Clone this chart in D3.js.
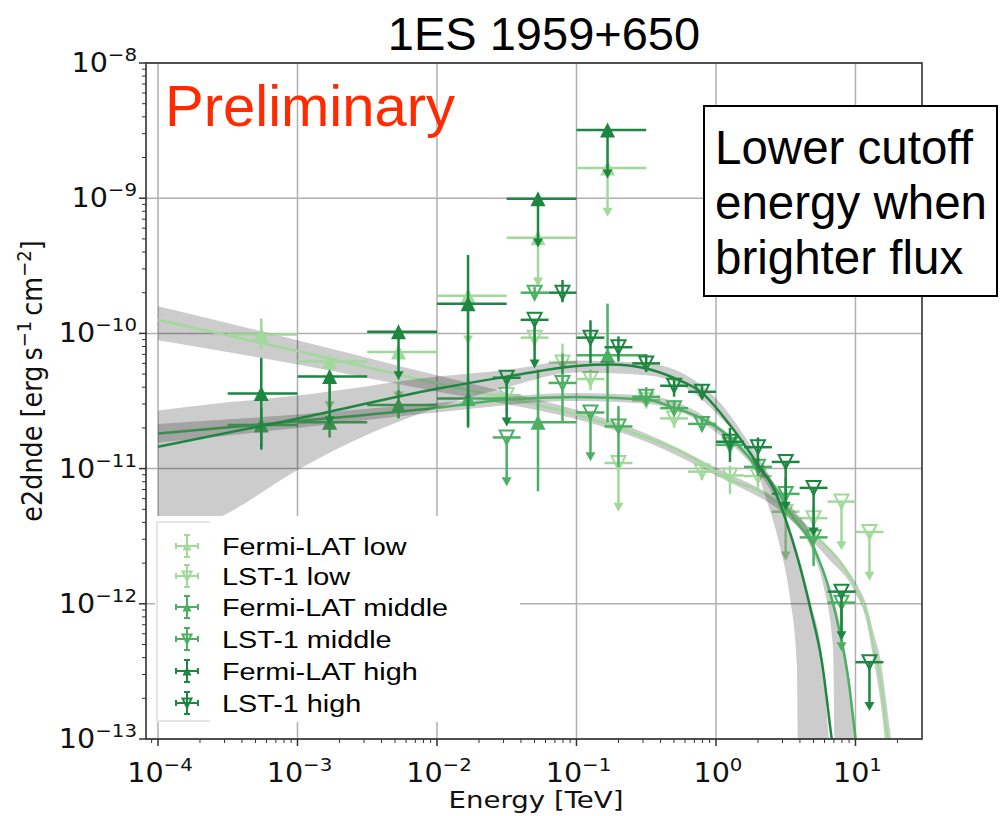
<!DOCTYPE html>
<html><head><meta charset="utf-8">
<script src="https://cdn.jsdelivr.net/npm/d3@7"></script>
<style>body{margin:0;background:#fff}</style>
</head><body><svg id="c" width="1000" height="816"></svg>
<script>
// ---------- tick labels ----------
const xTickVals = [1e-4, 1e-3, 1e-2, 1e-1, 1, 10];
const xTickExp = ["\u22124", "\u22123", "\u22122", "\u22121", "0", "1"];
const yTickVals = [1e-13, 1e-12, 1e-11, 1e-10, 1e-9, 1e-8];
const yTickExp = ["\u221213", "\u221212", "\u221211", "\u221210", "\u22129", "\u22128"];

// ---------- Fermi-LAT flux points ----------
const fermiE   = [5.5e-4, 1.7e-3, 5.3e-3, 1.67e-2, 5.3e-2, 0.167];
const fermiElo = [3.16e-4, 1e-3, 3.16e-3, 1e-2, 3.16e-2, 0.1];
const fermiEhi = [1e-3, 3.16e-3, 1e-2, 3.16e-2, 0.1, 0.316];

const fermiLow      = [9.8e-11, 6.2e-11, 7.3e-11, 1.9e-10, 5.1e-10, 1.67e-9];
const fermiLowErrLo = [7.6e-11, null, null, null, null, null];
const fermiLowErrHi = [1.29e-10, null, null, null, null, null];
const fermiLowUL    = [0, 1, 1, 1, 1, 1];

const fermiMid      = [2.1e-11, 2.2e-11, 2.95e-11, 3.3e-11, 2.2e-11, 6.9e-11];
const fermiMidErrLo = [1.45e-11, 1.7e-11, 2.35e-11, 2.0e-11, 6.8e-12, 2.2e-11];
const fermiMidErrHi = [2.8e-11, 2.7e-11, 3.8e-11, 4.6e-11, 5.4e-11, 1.66e-10];
const fermiMidUL    = [0, 0, 0, 0, 0, 0];

const fermiHigh      = [3.6e-11, 4.8e-11, 1.03e-10, 1.66e-10, 9.9e-10, 3.2e-9];
const fermiHighErrLo = [1.38e-11, null, null, 2.05e-11, null, null];
const fermiHighErrHi = [6.6e-11, null, null, 3.8e-10, null, null];
const fermiHighUL    = [0, 1, 1, 0, 1, 1];

// ---------- LST-1 flux points ----------
const lstE = [0.0316, 0.0501, 0.0794, 0.126, 0.2, 0.316, 0.501, 0.794, 1.26, 2.0, 3.16, 5.01, 7.94, 12.6];

const lstLow      = [3.5e-11, 9.3e-11, 6.1e-11, 4.6e-11, 1.1e-11, 3.2e-11, 2.35e-11, 9.5e-12, 8.9e-12, 8.8e-12, 4.8e-12, 4.3e-12, 5.7e-12, 3.4e-12];
const lstLowErrLo = [2.6e-11, 7.5e-11, 4.2e-11, 3.8e-11, null, 2.8e-11, 2.0e-11, 8.2e-12, 6.5e-12, 7.0e-12, null, 3.3e-12, null, null];
const lstLowErrHi = [4.4e-11, 1.1e-10, 8.4e-11, 5.4e-11, null, 3.6e-11, 2.7e-11, 1.1e-11, 1.05e-11, 1.05e-11, null, 5.3e-12, null, null];
const lstLowUL    = [0, 0, 0, 0, 1, 0, 0, 0, 0, 0, 1, 0, 1, 1];

const lstMid      = [1.7e-11, 2.0e-10, 4.3e-11, 2.6e-11, 2.05e-11, 3.4e-11, 2.8e-11, 2.14e-11, 1.5e-11, 1.03e-11, 6.5e-12, 3.1e-12, 1.02e-12, null];
const lstMidErrLo = [null, 1.8e-10, 2.2e-11, null, 1.03e-11, 2.9e-11, 2.5e-11, 1.9e-11, 1.3e-11, 8.8e-12, 4.5e-12, 1.9e-12, null, null];
const lstMidErrHi = [null, 2.2e-10, 7.1e-11, null, 2.9e-11, 4.0e-11, 3.2e-11, 2.4e-11, 1.75e-11, 1.2e-11, 8.5e-12, 4.0e-12, null, null];
const lstMidUL    = [1, 0, 0, 1, 0, 0, 0, 0, 0, 0, 0, 0, 1, 0];

const lstHigh      = [4.7e-11, 1.26e-10, 2.0e-10, 9.3e-11, 7.9e-11, 6.0e-11, 4.1e-11, 3.7e-11, 1.58e-11, 1.44e-11, 1.12e-11, 7.2e-12, 1.23e-12, 3.7e-13];
const lstHighErrLo = [null, null, 1.7e-10, 6.0e-11, 6.2e-11, 5.2e-11, 3.4e-11, 3.3e-11, 1.12e-11, 1.0e-11, null, null, null, null];
const lstHighErrHi = [null, null, 2.48e-10, 1.25e-10, 9.5e-11, 7.0e-11, 4.7e-11, 4.2e-11, 2.0e-11, 1.7e-11, null, null, null, null];
const lstHighUL    = [1, 1, 0, 0, 0, 0, 0, 0, 0, 0, 1, 1, 1, 1];

// ---------- fitted models ----------
const modelLowE = [1e-4, 1e-3, 1e-2, 0.0316, 0.1, 0.2, 0.316, 0.5, 0.794, 1.26, 2.0, 2.75, 4.07, 5.9, 7.9, 10, 12, 13.5, 15.1, 17, 18.2];
const modelLowF = [1.26e-10, 7.41e-11, 4.27e-11, 3.31e-11, 2.51e-11, 2.0e-11, 1.70e-11, 1.41e-11, 1.10e-11, 8.3e-12, 6.9e-12, 5.6e-12, 4.0e-12, 2.8e-12, 2.0e-12, 1.32e-12, 8.5e-13, 4.8e-13, 2.75e-13, 1.02e-13, 6e-14];
const bandLowE  = [1e-4, 1e-3, 1e-2, 0.0316, 0.1, 0.316, 1, 3.16, 6.3, 10, 12, 13.5, 15.1, 17, 19];
const bandLowHi = [1.585e-10, 8.91e-11, 4.90e-11, 3.67e-11, 2.72e-11, 1.82e-11, 1.02e-11, 5.31e-12, 2.63e-12, 1.45e-12, 9.8e-13, 6.1e-13, 3.9e-13, 1.6e-13, 6.5e-14];
const bandLowLo = [8.91e-11, 5.89e-11, 3.72e-11, 2.99e-11, 2.32e-11, 1.58e-11, 8.9e-12, 4.52e-12, 2.19e-12, 1.2e-12, 7.4e-13, 3.8e-13, 1.9e-13, 6.2e-14, 2.0e-14];

const modelMidE = [1e-4, 1e-3, 1e-2, 0.0316, 0.1, 0.316, 0.5, 0.794, 1.26, 2.0, 2.75, 3.39, 5.0, 6.6, 7.76, 8.9, 10, 10.7];
const modelMidF = [1.82e-11, 2.24e-11, 2.82e-11, 3.24e-11, 3.39e-11, 3.24e-11, 2.82e-11, 2.34e-11, 1.70e-11, 1.02e-11, 6.9e-12, 4.7e-12, 2.63e-12, 1.20e-12, 6.0e-13, 2.75e-13, 1.02e-13, 6e-14];
const bandMidE  = [1e-4, 1e-3, 1e-2, 0.1, 0.316, 1, 2.0, 3.16, 5.0, 5.9, 6.9, 7.4, 8.9, 10, 11.2];
const bandMidHi = [2.14e-11, 2.51e-11, 3.05e-11, 3.63e-11, 3.47e-11, 2.14e-11, 1.11e-11, 5.89e-12, 2.88e-12, 1.70e-12, 1.10e-12, 8.5e-13, 3.16e-13, 1.17e-13, 3.5e-14];
const bandMidLo = [1.55e-11, 2.0e-11, 2.60e-11, 3.16e-11, 3.02e-11, 1.86e-11, 9.4e-12, 4.68e-12, 2.34e-12, 1.35e-12, 4.8e-13, 3e-15, 3e-15, 3e-15, 3e-15];

const modelHighE = [1e-4, 1e-3, 1e-2, 0.0316, 0.1, 0.178, 0.316, 0.5, 0.794, 1.26, 2.0, 2.63, 3.16, 3.89, 4.79, 5.75, 6.76, 7.24];
const modelHighF = [1.45e-11, 2.34e-11, 3.89e-11, 4.79e-11, 5.75e-11, 5.89e-11, 5.5e-11, 4.68e-11, 3.63e-11, 2.1e-11, 1.07e-11, 6.9e-12, 4.2e-12, 2.1e-12, 8.9e-13, 3.7e-13, 1.0e-13, 6e-14];
const bandHighE  = [1e-4, 3.16e-4, 1e-3, 3.16e-3, 1e-2, 3.16e-2, 0.1, 0.316, 1, 2.0, 2.19, 2.88, 3.39, 3.8, 4.0, 4.8, 5.75, 6.46, 7.24];
const bandHighHi = [2.69e-11, 3.09e-11, 3.47e-11, 4.07e-11, 4.79e-11, 5.37e-11, 6.31e-11, 6.03e-11, 3.31e-11, 1.23e-11, 1.07e-11, 5.89e-12, 3.63e-12, 2.51e-12, 2.09e-12, 1.0e-12, 4.17e-13, 1.0e-13, 3.2e-14];
const bandHighLo = [2.82e-12, 4.68e-12, 9.77e-12, 1.78e-11, 2.82e-11, 3.98e-11, 5.13e-11, 4.90e-11, 2.57e-11, 9.3e-12, 6.9e-12, 2.63e-12, 1.12e-12, 3.6e-13, 1e-15, 1e-15, 1e-15, 1e-15, 1e-15];

const legendLabels = ["Fermi-LAT low", "LST-1 low", "Fermi-LAT middle", "LST-1 middle", "Fermi-LAT high", "LST-1 high"];
const boxLines = ["Lower cutoff", "energy when", "brighter flux"];

// ---------- drawing ----------
const colLow = "#a1d99b", colMid = "#4bb062", colHigh = "#1d8641";
const svg = d3.select("#c");
const X0 = 146, X1 = 922, Y0 = 63, Y1 = 739;
const x = d3.scaleLog().domain([Math.pow(10, -4.086), Math.pow(10, 1.477)]).range([X0, X1]);
const y = d3.scaleLog().domain([1e-13, 1e-8]).range([Y1, Y0]);

svg.append("rect").attr("width", 1000).attr("height", 816).attr("fill", "#fff");
svg.append("defs").append("clipPath").attr("id", "clip")
  .append("rect").attr("x", X0).attr("y", Y0).attr("width", X1 - X0).attr("height", Y1 - Y0);

// grid
const grid = svg.append("g");
xTickVals.forEach(v => grid.append("line").attr("x1", x(v)).attr("x2", x(v)).attr("y1", Y0).attr("y2", Y1)
  .attr("stroke", "#b0b0b0").attr("stroke-width", 1.5));
yTickVals.forEach(v => grid.append("line").attr("y1", y(v)).attr("y2", y(v)).attr("x1", X0).attr("x2", X1)
  .attr("stroke", "#b0b0b0").attr("stroke-width", 1.5));

const plot = svg.append("g").attr("clip-path", "url(#clip)");

function drawModel(E, F, bE, bLo, bHi, col) {
  const band = bE.map((e, i) => [e, bLo[i], bHi[i]]);
  plot.append("path").datum(band)
    .attr("d", d3.area().x(d => x(d[0])).y0(d => y(d[1])).y1(d => y(d[2])).curve(d3.curveMonotoneX))
    .attr("fill", "#000").attr("fill-opacity", 0.2);
  const pts = E.map((e, i) => [e, F[i]]);
  plot.append("path").datum(pts)
    .attr("d", d3.line().x(d => x(d[0])).y(d => y(d[1])).curve(d3.curveMonotoneX))
    .attr("fill", "none").attr("stroke", col).attr("stroke-width", 2.5);
}

function arrowHead(g, cx, cy, col) {
  g.append("path").attr("d", `M${cx - 5},${cy - 1}L${cx + 5},${cy - 1}L${cx},${cy + 8}Z`).attr("fill", col);
}
function triUp(g, cx, cy, s, col, filled) {
  g.append("path").attr("d", `M${cx},${cy - s / 2}L${cx + s / 2},${cy + s / 2}L${cx - s / 2},${cy + s / 2}Z`)
    .attr("fill", filled ? col : "none").attr("stroke", filled ? "none" : col).attr("stroke-width", 2);
}
function triDown(g, cx, cy, s, col) {
  g.append("path").attr("d", `M${cx - s / 2},${cy - s / 2}L${cx + s / 2},${cy - s / 2}L${cx},${cy + s / 2}Z`)
    .attr("fill", "none").attr("stroke", col).attr("stroke-width", 2);
}

function drawPoints(E, Elo, Ehi, V, lo, hi, ul, col, kind) {
  const g = plot.append("g");
  E.forEach((e, i) => {
    const v = V[i];
    if (v == null) return;
    const cx = x(e), cy = y(v);
    g.append("line").attr("x1", x(Elo[i])).attr("x2", x(Ehi[i])).attr("y1", cy).attr("y2", cy)
      .attr("stroke", col).attr("stroke-width", 2.5);
    if (ul[i]) {
      const yb = y(v * 0.5);
      g.append("line").attr("x1", cx).attr("x2", cx).attr("y1", cy).attr("y2", yb)
        .attr("stroke", col).attr("stroke-width", 2.5);
      arrowHead(g, cx, yb, col);
    } else if (lo[i] != null) {
      g.append("line").attr("x1", cx).attr("x2", cx).attr("y1", y(hi[i])).attr("y2", y(lo[i]))
        .attr("stroke", col).attr("stroke-width", 2.5);
    }
    if (kind === "fermi") triUp(g, cx, cy, 15, col, true);
    else triDown(g, cx, cy, 14, col);
  });
}

const lstLoE = lstE.map(e => e / 1.2589), lstHiE = lstE.map(e => e * 1.2589);

drawModel(modelLowE, modelLowF, bandLowE, bandLowLo, bandLowHi, colLow);
drawPoints(fermiE, fermiElo, fermiEhi, fermiLow, fermiLowErrLo, fermiLowErrHi, fermiLowUL, colLow, "fermi");
drawPoints(lstE, lstLoE, lstHiE, lstLow, lstLowErrLo, lstLowErrHi, lstLowUL, colLow, "lst");
drawModel(modelMidE, modelMidF, bandMidE, bandMidLo, bandMidHi, colMid);
drawPoints(fermiE, fermiElo, fermiEhi, fermiMid, fermiMidErrLo, fermiMidErrHi, fermiMidUL, colMid, "fermi");
drawPoints(lstE, lstLoE, lstHiE, lstMid, lstMidErrLo, lstMidErrHi, lstMidUL, colMid, "lst");
drawModel(modelHighE, modelHighF, bandHighE, bandHighLo, bandHighHi, colHigh);
drawPoints(fermiE, fermiElo, fermiEhi, fermiHigh, fermiHighErrLo, fermiHighErrHi, fermiHighUL, colHigh, "fermi");
drawPoints(lstE, lstLoE, lstHiE, lstHigh, lstHighErrLo, lstHighErrHi, lstHighUL, colHigh, "lst");

// spines
svg.append("rect").attr("x", X0).attr("y", Y0).attr("width", X1 - X0).attr("height", Y1 - Y0)
  .attr("fill", "none").attr("stroke", "#333").attr("stroke-width", 1.6);

// ticks
const tk = svg.append("g").attr("stroke", "#333");
xTickVals.forEach(v => tk.append("line").attr("x1", x(v)).attr("x2", x(v)).attr("y1", Y1).attr("y2", Y1 + 7).attr("stroke-width", 1.5));
yTickVals.forEach(v => tk.append("line").attr("y1", y(v)).attr("y2", y(v)).attr("x1", X0).attr("x2", X0 - 7).attr("stroke-width", 1.5));
for (let d = -5; d <= 1; d++) for (let m = 2; m <= 9; m++) {
  const v = m * Math.pow(10, d);
  if (v > x.domain()[0] && v < x.domain()[1])
    tk.append("line").attr("x1", x(v)).attr("x2", x(v)).attr("y1", Y1).attr("y2", Y1 + 4).attr("stroke-width", 1);
}
for (let d = -13; d <= -9; d++) for (let m = 2; m <= 9; m++) {
  const v = m * Math.pow(10, d);
  tk.append("line").attr("y1", y(v)).attr("y2", y(v)).attr("x1", X0).attr("x2", X0 - 4).attr("stroke-width", 1);
}

// tick labels
const tfont = "DejaVu Sans";
function powLabel(tx, ty, exp, anchor) {
  const g = svg.append("g").attr("transform", `translate(${tx},${ty}) scale(1.1,1)`);
  const t = g.append("text").attr("font-family", tfont).attr("font-size", 26).attr("fill", "#111")
    .attr("text-anchor", anchor);
  t.append("tspan").text("10");
  t.append("tspan").attr("font-size", 18).attr("dy", -11).text(exp);
}
xTickVals.forEach((v, i) => powLabel(x(v) + 2, 782, xTickExp[i], "middle"));
yTickVals.forEach((v, i) => powLabel(137, y(v) + 9, yTickExp[i], "end"));

// axis labels
svg.append("g").attr("transform", "translate(536,808) scale(1.2,1)")
  .append("text").attr("font-family", tfont).attr("font-size", 23).attr("text-anchor", "middle").attr("fill", "#111")
  .text("Energy [TeV]");
const yl = svg.append("g").attr("transform", "translate(42,381) scale(1.1,1) rotate(-90)")
  .append("text").attr("font-family", tfont).attr("font-size", 25.5).attr("text-anchor", "middle").attr("fill", "#111");
yl.append("tspan").text("e2dnde [erg\u2009s");
yl.append("tspan").attr("font-size", 18).attr("dy", -10).text("\u22121");
yl.append("tspan").attr("dy", 10).text("\u2009cm");
yl.append("tspan").attr("font-size", 18).attr("dy", -10).text("\u22122");
yl.append("tspan").attr("dy", 10).text("]");

// title
svg.append("text").attr("x", 544).attr("y", 50).attr("font-family", "Liberation Sans").attr("font-size", 47)
  .attr("text-anchor", "middle").attr("fill", "#000").text("1ES 1959+650");

// Preliminary
svg.append("text").attr("x", 165).attr("y", 126).attr("font-family", "Liberation Sans").attr("font-size", 58)
  .attr("fill", "#ff2a00").text("Preliminary");

// legend (white panel)
svg.append("rect").attr("x", 155).attr("y", 516).attr("width", 365).attr("height", 206).attr("fill", "#fff");
const lg = svg.append("g");
lg.append("line").attr("x1", 157).attr("x2", 157).attr("y1", 522).attr("y2", 721).attr("stroke", "#ddd").attr("stroke-width", 1.5);
lg.append("line").attr("x1", 157).attr("x2", 210).attr("y1", 522).attr("y2", 522).attr("stroke", "#ddd").attr("stroke-width", 1.5);
lg.append("line").attr("x1", 157).attr("x2", 210).attr("y1", 721).attr("y2", 721).attr("stroke", "#ddd").attr("stroke-width", 1.5);
const legRows = [546, 576, 607, 639, 671, 703];
const legCols = [colLow, colLow, colMid, colMid, colHigh, colHigh];
legendLabels.forEach((lab, i) => {
  const cy = legRows[i], col = legCols[i], cx = 187;
  const g = lg.append("g").attr("stroke", col).attr("stroke-width", 2);
  g.append("line").attr("x1", cx - 11).attr("x2", cx + 11).attr("y1", cy).attr("y2", cy);
  g.append("line").attr("x1", cx).attr("x2", cx).attr("y1", cy - 11).attr("y2", cy + 11);
  g.append("line").attr("x1", cx - 11).attr("x2", cx - 11).attr("y1", cy - 3).attr("y2", cy + 3);
  g.append("line").attr("x1", cx + 11).attr("x2", cx + 11).attr("y1", cy - 3).attr("y2", cy + 3);
  g.append("line").attr("x1", cx - 3).attr("x2", cx + 3).attr("y1", cy - 11).attr("y2", cy - 11);
  g.append("line").attr("x1", cx - 3).attr("x2", cx + 3).attr("y1", cy + 11).attr("y2", cy + 11);
  if (i % 2 === 0) triUp(lg, cx, cy, 9, col, true); else triDown(lg, cx, cy, 9, col);
  lg.append("g").attr("transform", `translate(222,${cy + 8.5}) scale(1.2,1)`)
    .append("text").attr("font-family", "Liberation Sans").attr("font-size", 24).attr("fill", "#000").text(lab);
});

// annotation box
svg.append("rect").attr("x", 704).attr("y", 106).attr("width", 293).attr("height", 190)
  .attr("fill", "#fff").attr("stroke", "#000").attr("stroke-width", 2);
boxLines.forEach((t, i) => svg.append("text").attr("x", 715).attr("y", 164 + i * 55)
  .attr("font-family", "Liberation Sans").attr("font-size", 47.5).attr("fill", "#000").text(t));
</script></body></html>
